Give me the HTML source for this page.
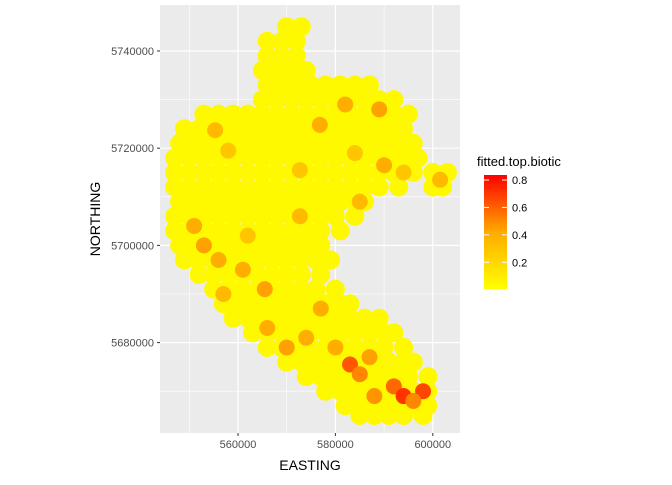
<!DOCTYPE html>
<html><head><meta charset="utf-8"><style>
body{margin:0;background:#fff;font-family:"Liberation Sans",sans-serif}
</style></head><body>
<svg id="chart" width="672" height="480" xmlns="http://www.w3.org/2000/svg">
<defs><linearGradient id="cb" x1="0" y1="1" x2="0" y2="0">
<stop offset="0" stop-color="#ffff00"/><stop offset="0.5" stop-color="#ffaa00"/><stop offset="1" stop-color="#ff0000"/></linearGradient>
<clipPath id="pc"><rect x="160" y="5" width="300" height="428"/></clipPath></defs>
<rect x="160" y="5" width="300" height="428" fill="#ebebeb"/>
<g id="grid"></g><g id="pts" clip-path="url(#pc)"></g><g id="axes"></g>
<text x="310" y="470" text-anchor="middle" font-size="14" fill="#000">EASTING</text>
<text transform="translate(100,219) rotate(-90)" text-anchor="middle" font-size="14" fill="#000">NORTHING</text>
<text x="477" y="166" font-size="13" fill="#000">fitted.top.biotic</text>
<rect x="484" y="175" width="23" height="114" fill="url(#cb)"/>
<g id="leg"></g>
</svg>
<script>
const xTicks=[560000,580000,600000];
const yTicks=[5680000,5700000,5720000,5740000];
const legTicks=[0.2,0.4,0.6,0.8];
const rows=[
[5745,[570,573]],
[5742,[566,569,572]],
[5739,[566,569,572]],
[5736,[565,568,571,574]],
[5733,[566,569,572,575,578,581,584,587]],
[5730,[565,568,571,574,577,580,583,586,589,592]],
[5727,[553,556,559,562,565,568,571,574,577,580,583,586,589,592,595]],
[5724,[549,552,555,558,561,564,567,570,573,576,579,582,585,588,591,594]],
[5721,[548,551,554,557,560,563,566,569,572,575,578,581,584,587,590,593,596]],
[5718,[547,550,553,556,559,562,565,568,571,574,577,580,583,586,589,592,595,597]],
[5715,[547,550,553,556,559,562,565,568,571,574,577,580,583,586,589,592,596,600,603]],
[5712,[547,550,553,556,559,562,565,568,571,574,577,580,583,586,589,593,600,602]],
[5709,[548,551,554,557,560,563,566,569,572,575,578,581,584,586]],
[5706,[547,550,553,556,559,562,565,568,571,574,577,580,584]],
[5703,[547,550,553,556,559,562,565,568,571,574,577,581]],
[5700,[548,551,554,557,560,563,566,569,572,575,577]],
[5697,[549,552,555,558,561,564,567,570,573,576,579]],
[5694,[552,555,558,561,564,567,570,573,577]],
[5691,[555,558,561,564,567,570,573,576,580]],
[5688,[557,560,563,566,569,572,575,578,581,583]],
[5685,[559,562,565,568,571,574,577,580,583,586,589]],
[5682,[563,566,569,572,575,578,581,584,587,590,592]],
[5679,[566,569,572,575,578,581,584,587,590,594]],
[5676,[570,573,576,579,582,585,588,591,594,596]],
[5673,[574,577,580,583,586,589,592,595,599]],
[5670,[578,581,584,587,590,593,596,599]],
[5667,[582,585,588,591,594,597,599]],
[5665,[585,588,591,594,598]]
];
const hotE=[555.3,558,576.8,582,589,590,585,584,572.7,594,601.5,551,553,556,561,565.5,572.7,577,566,570,574,583,585,592,594,598,588,562,557,580,587,596];
const hotN=[5723.7,5719.5,5724.8,5729,5728,5716.5,5709,5719,5715.5,5715,5713.5,5704,5700,5697,5695,5691,5706,5687,5683,5679,5681,5675.5,5673.5,5671,5669,5670,5669,5702,5690,5679,5677,5668];
const hotV=[0.3,0.25,0.35,0.35,0.4,0.35,0.3,0.25,0.25,0.25,0.3,0.35,0.4,0.35,0.35,0.4,0.3,0.35,0.35,0.4,0.35,0.65,0.5,0.6,0.75,0.7,0.45,0.25,0.3,0.35,0.4,0.5];
const NS="http://www.w3.org/2000/svg";
const sx=e=>238+(e-560000)*4.87/1000;
const sy=n=>51+(5740000-n)*4.86/1000;
const col=v=>{const t=Math.max(0,Math.min(1,v/0.83));return `rgb(255,${Math.round(255*Math.pow(1-t,0.7))},0)`;};
function mk(t,a,p){const el=document.createElementNS(NS,t);for(const k in a)el.setAttribute(k,a[k]);p.appendChild(el);return el;}
const grid=document.getElementById('grid'),axes=document.getElementById('axes');
[550000,570000,590000].forEach(v=>{const l=mk('line',{x1:sx(v),x2:sx(v),y1:5,y2:433,stroke:'#fff','stroke-width':0.6},grid);});
[5670000,5690000,5710000,5730000].forEach(v=>{const l=mk('line',{x1:160,x2:460,y1:sy(v),y2:sy(v),stroke:'#fff','stroke-width':0.6},grid);});
xTicks.forEach(v=>{const x=sx(v);
const g=mk('line',{x1:x,x2:x,y1:5,y2:433,stroke:'#fff','stroke-width':1.2},grid);
const t=mk('line',{x1:x,x2:x,y1:433,y2:436,stroke:'#333'},axes);
const l=mk('text',{x:x,y:448,'text-anchor':'middle','font-size':11,fill:'#4d4d4d'},axes);l.textContent=v;});
yTicks.forEach(v=>{const y=sy(v);
const g=mk('line',{x1:160,x2:460,y1:y,y2:y,stroke:'#fff','stroke-width':1.2},grid);
const t=mk('line',{x1:157,x2:160,y1:y,y2:y,stroke:'#333'},axes);
const l=mk('text',{x:154,y:y+4,'text-anchor':'end','font-size':11,fill:'#4d4d4d'},axes);l.textContent=v;});
const pts=document.getElementById('pts');
rows.forEach(r=>r[1].forEach(e=>{const c=mk('circle',{cx:sx(e*1000),cy:sy(r[0]*1000),r:9.5,fill:col(0.03)},pts);}));
hotE.forEach((e,i)=>{const c=mk('circle',{cx:sx(e*1000),cy:sy(hotN[i]*1000),r:8,fill:col(hotV[i])},pts);});
const leg=document.getElementById('leg');
legTicks.forEach(v=>{const y=289-(v-0.005)*(289-180)/0.795;
mk('line',{x1:484,x2:489,y1:y,y2:y,stroke:'#fff'},leg);mk('line',{x1:502,x2:507,y1:y,y2:y,stroke:'#fff'},leg);
const l=mk('text',{x:512,y:y+4,'font-size':11,fill:'#000'},leg);l.textContent=v.toFixed(1);});
</script>
</body></html>
